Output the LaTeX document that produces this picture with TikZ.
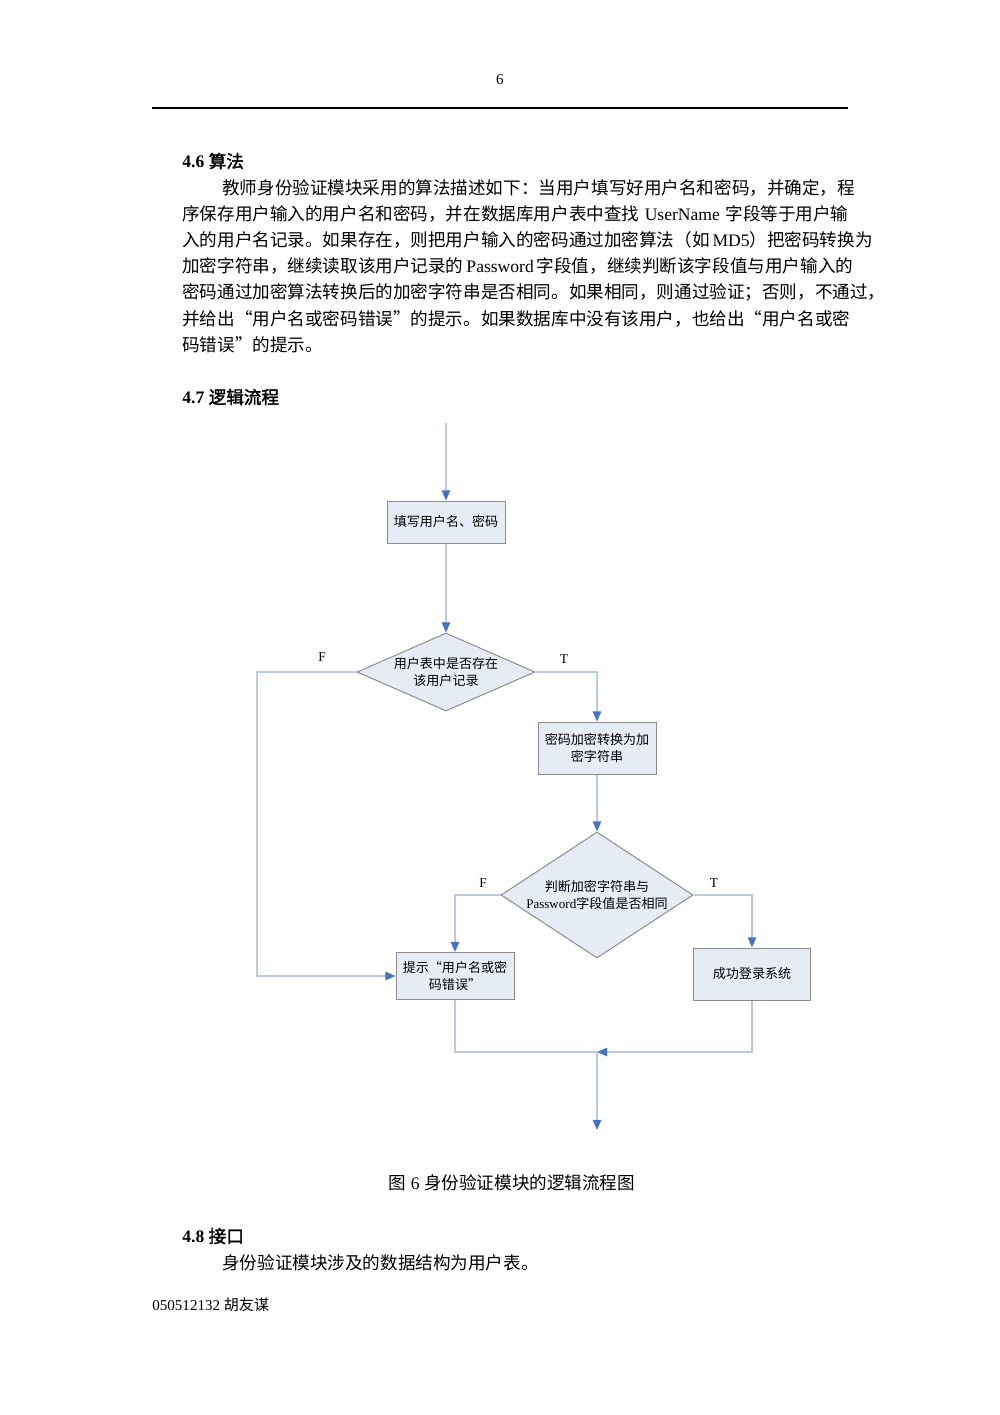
\documentclass[tikz,border=0pt]{standalone}
\usepackage{fontspec}
\setmainfont{Liberation Serif}
\newfontfamily\cjk{Noto Sans CJK SC}
\newfontfamily\cjkb{Noto Sans CJK SC}[FakeBold=2]
\usetikzlibrary{arrows.meta,shapes.geometric}
\XeTeXlinebreaklocale "zh"
\XeTeXlinebreakskip=0pt plus 2pt minus 0.8pt
\newcommand{\C}[1]{{\cjk #1}}
\newcommand{\jl}[2]{\hbox to #1{#2}}
\definecolor{linec}{HTML}{B9C9E2}
\definecolor{arrc}{HTML}{4472C4}
\definecolor{boxf}{HTML}{E6ECF6}
\definecolor{boxd}{HTML}{8C8C8C}
\tikzset{
  body/.style={anchor=west,inner sep=0pt,font=\fontsize{10.5pt}{12pt}\selectfont},
  blk/.style={draw=boxd,fill=boxf,line width=0.6pt,inner sep=2pt,align=center,font=\fontsize{7.8pt}{10pt}\selectfont\cjk},
  dia/.style={diamond,draw=boxd,fill=boxf,line width=0.6pt,inner sep=0pt,align=center,font=\fontsize{7.8pt}{10pt}\selectfont},
  flow/.style={draw=linec,line width=0.8pt},
  arr/.style={flow,-{Triangle[width=5pt,length=6pt,color=arrc]}},
  lab/.style={font=\fontsize{8pt}{10pt}\selectfont}
}
\begin{document}
\begin{tikzpicture}[x=0.021cm,y=-0.021cm]
\useasboundingbox (0,0) rectangle (1000,1415);
\node[font=\fontsize{9pt}{10pt}\selectfont] (pg) at (500,80) {6};
\coordinate (r1) at (152,108); \coordinate (r2) at (848,108);
\draw[line width=0.9pt] (r1) -- (r2);
\node[body] (h46) at (182,161) {\textbf{4.6} \C{\cjkb 算法}};
\node[body] (p1) at (222,188) {\jl{13.146cm}{\C{教师身份验证模块采用的算法描述如下：当用户填写好用户名和密码，并确定，程}}};
\node[body] (p2) at (182,214) {\jl{13.986cm}{\C{序保存用户输入的用户名和密码，并在数据库用户表中查找} UserName \C{字段等于用户输}}};
\node[body] (p3) at (182,240) {\jl{13.986cm}{\C{入的用户名记录。如果存在，则把用户输入的密码通过加密算法（如} MD5\C{）把密码转换为}}};
\node[body] (p4) at (182,266) {\jl{13.986cm}{\C{加密字符串，继续读取该用户记录的} Password \C{字段值，继续判断该字段值与用户输入的}}};
\node[body] (p5) at (182,292) {\jl{13.986cm}{\C{密码通过加密算法转换后的加密字符串是否相同。如果相同，则通过验证；否则，不通过，}}};
\node[body] (p6) at (182,319) {\jl{13.986cm}{\C{并给出“用户名或密码错误”的提示。如果数据库中没有该用户，也给出“用户名或密}}};
\node[body] (p7) at (182,345) {\C{码错误”的提示。}};
\node[body] (h47) at (182,397) {\textbf{4.7} \C{\cjkb 逻辑流程}};
% flowchart
\coordinate (start) at (446,423);
\node[blk,minimum width=118*0.021cm,minimum height=42*0.021cm] (b1) at (446,522) {填写用户名、密码};
\node[dia,aspect=2.3,minimum width=178*0.021cm,minimum height=78*0.021cm] (d1) at (446,672) {\cjk 用户表中是否存在\\\cjk 该用户记录};
\node[blk,minimum width=118*0.021cm,minimum height=52*0.021cm] (b2) at (597,748) {密码加密转换为加\\密字符串};
\node[dia,aspect=1.6,minimum width=192*0.021cm,minimum height=126*0.021cm] (d2) at (597,895) {\cjk 判断加密字符串与\\Password\cjk 字段值是否相同};
\node[blk,minimum width=118*0.021cm,minimum height=47*0.021cm] (b3) at (455,976) {提示“用户名或密\\码错误”};
\node[blk,minimum width=117*0.021cm,minimum height=52*0.021cm] (b4) at (752,974) {成功登录系统};
\coordinate (m) at (597,1052);
\coordinate (end) at (597,1130);
\coordinate (lc) at (257,672);
\draw[arr] (start) -- (b1.north);
\draw[arr] (b1.south) -- (d1.north);
\draw[arr] (d1.west) -- (lc) |- (b3.west);
\draw[arr] (d1.east) -| (b2.north);
\draw[arr] (b2.south) -- (d2.north);
\draw[arr] (d2.west) -| (b3.north);
\draw[arr] (d2.east) -| (b4.north);
\draw[flow] (b3.south) |- (m);
\draw[arr] (b4.south) |- (m);
\draw[arr] (m) -- (end);
\node[lab] (lf1) at (322,657) {F};
\node[lab] (lt1) at (564,659) {T};
\node[lab] (lf2) at (483,883) {F};
\node[lab] (lt2) at (714,883) {T};
\node[font=\fontsize{10.5pt}{12pt}\selectfont] (cap) at (512,1183) {\C{图} 6 \C{身份验证模块的逻辑流程图}};
\node[body] (h48) at (182,1236) {\textbf{4.8} \C{\cjkb 接口}};
\node[body] (p8) at (222,1263) {\C{身份验证模块涉及的数据结构为用户表。}};
\node[body,font=\fontsize{9pt}{10pt}\selectfont] (ft) at (152,1305) {050512132 \C{胡友谋}};
\end{tikzpicture}
\end{document}
